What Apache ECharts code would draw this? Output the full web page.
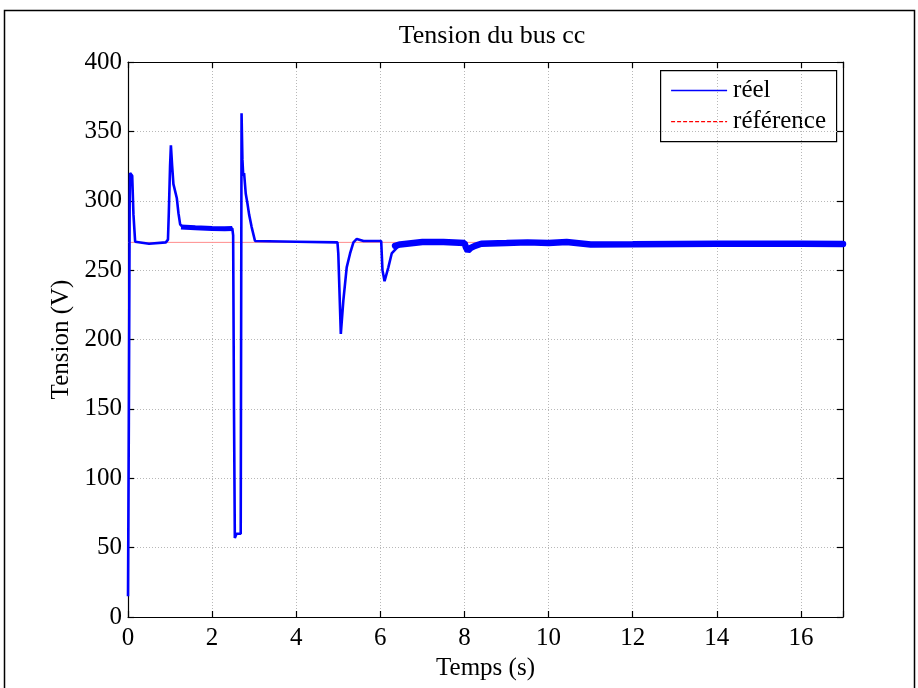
<!DOCTYPE html>
<html>
<head>
<meta charset="utf-8">
<script src="https://cdn.jsdelivr.net/npm/echarts@6/dist/echarts.min.js"></script>
<style>html,body{margin:0;padding:0;background:#fff}#c{width:918px;height:688px}</style>
</head>
<body>
<div id="c"></div>
<script>
// Data (time in s, voltage in V)
const title = 'Tension du bus cc';
const xName = 'Temps (s)';
const yName = 'Tension (V)';
const seriesNames = ['réel', 'référence'];

// main measured voltage path
const reelT = [0, 0.02, 0.04, 0.05, 0.10, 0.13, 0.17, 0.5, 0.9, 0.95, 0.97, 1.0, 1.02, 1.05, 1.08, 1.16, 1.2, 1.24, 1.3, 2.0, 2.48, 2.5, 2.52, 2.54, 2.58, 2.68, 2.7, 2.72, 2.74, 2.76, 2.8, 2.84, 2.88, 2.94, 3.02, 4.0, 4.98, 5.0, 5.06, 5.12, 5.2, 5.28, 5.36, 5.44, 5.6, 6.02, 6.05, 6.1, 6.19, 6.27, 6.47, 7.0, 7.5, 8.0, 8.04, 8.08, 8.15, 8.25, 8.4, 9.0, 9.5, 10.0, 10.43, 11.0, 12.0, 13.0, 14.0, 15.0, 16.0, 17.0];
const reelV = [15, 140, 300, 320, 318, 290, 270.5, 269, 270, 272, 291, 325, 340, 325, 312, 302, 291, 283, 281, 280, 280, 275, 150, 57, 60, 60, 363, 330, 318, 320, 305, 298, 290, 281, 271, 270.5, 270, 262, 204, 228, 252, 262, 270, 272.5, 271, 271, 250, 242, 252, 262, 268.5, 270.5, 270.5, 269.5, 266, 264, 266, 267.5, 269, 269.5, 270, 269.5, 270.5, 268.5, 268.5, 269, 269, 269, 269, 268.8];

// noisy parts (thick band) of the measured voltage
const plateauT = [1.26, 1.6, 2.0, 2.3, 2.48];
const plateauV = [281, 280.5, 280, 279.8, 280];
const steadyT = [6.35, 6.47, 7.0, 7.5, 8.0, 8.04, 8.08, 8.15, 8.25, 8.4, 9.0, 9.5, 10.0, 10.43, 11.0, 12.0, 13.0, 14.0, 15.0, 16.0, 17.0];
const steadyV = [267.5, 268.5, 270.2, 270.2, 269.5, 266, 264, 266, 267.5, 269, 269.5, 270, 269.5, 270.3, 268.5, 268.6, 268.9, 269, 269, 269, 268.8];

// reference voltage
const refT = [0, 17];
const refV = [270, 270];

const xTicks = [0, 2, 4, 6, 8, 10, 12, 14, 16];
const yTicks = [0, 50, 100, 150, 200, 250, 300, 350, 400];

const zip = (a, b) => a.map((t, i) => [t, b[i]]);
const FONT = 'Liberation Serif';
const BLUE = '#0000ff';
const FS = 25;

const chart = echarts.init(document.getElementById('c'), null, {renderer: 'canvas'});
const baseX = {
  type: 'value', min: 0, max: 17, interval: 2,
  axisLine: {show: true, onZero: false, lineStyle: {color: '#000', width: 1.2}},
  axisTick: {show: true, inside: true, length: 6, lineStyle: {color: '#000', width: 1.2}},
};
const baseY = {
  type: 'value', min: 0, max: 400, interval: 50,
  axisLine: {show: true, onZero: false, lineStyle: {color: '#000', width: 1.2}},
  axisTick: {show: true, inside: true, length: 6, lineStyle: {color: '#000', width: 1.2}},
};
chart.setOption({
  animation: false,
  backgroundColor: '#fff',
  title: {
    text: title, left: 487, top: 18, textAlign: 'center',
    textStyle: {fontFamily: FONT, fontSize: 26, fontWeight: 'normal', color: '#000'}
  },
  grid: {left: 128, top: 62, right: 75, bottom: 71, containLabel: false},
  xAxis: [
    Object.assign({}, baseX, {
      position: 'bottom',
      name: xName, nameLocation: 'middle', nameGap: 33,
      nameTextStyle: {fontFamily: FONT, fontSize: FS, color: '#000'},
      axisLabel: {show: true, margin: 9, fontFamily: FONT, fontSize: FS, color: '#000',
        formatter: v => (xTicks.indexOf(v) >= 0 ? String(v) : '')},
      splitLine: {show: true, lineStyle: {color: '#b8b8b8', type: [1, 2], width: 1}}
    }),
    Object.assign({}, baseX, {
      position: 'top', axisLabel: {show: false}, splitLine: {show: false}
    })
  ],
  yAxis: [
    Object.assign({}, baseY, {
      position: 'left',
      name: yName, nameLocation: 'middle', nameGap: 51,
      nameTextStyle: {fontFamily: FONT, fontSize: FS, color: '#000'},
      axisLabel: {show: true, margin: 6, fontFamily: FONT, fontSize: FS, color: '#000',
        formatter: v => (yTicks.indexOf(v) >= 0 ? String(v) : '')},
      splitLine: {show: true, lineStyle: {color: '#b8b8b8', type: [1, 2], width: 1}}
    }),
    Object.assign({}, baseY, {
      position: 'right', axisLabel: {show: false}, splitLine: {show: false}
    })
  ],
  graphic: [
    {
      type: 'rect', shape: {x: 4.5, y: 10.5, width: 910, height: 700},
      style: {fill: null, stroke: '#000', lineWidth: 1.5}, silent: true, z: 100
    },
    {
      type: 'group', left: 660, top: 70, z: 50, children: [
        {type: 'rect', shape: {x: 0.5, y: 0.5, width: 176, height: 71},
         style: {fill: '#fff', stroke: '#000', lineWidth: 1.2}},
        {type: 'line', shape: {x1: 11, y1: 20.5, x2: 67, y2: 20.5},
         style: {stroke: BLUE, lineWidth: 1.5}},
        {type: 'text', x: 73, y: 20, style: {text: seriesNames[0], fontFamily: FONT, fontSize: FS,
         fill: '#000', textVerticalAlign: 'middle', verticalAlign: 'middle'}},
        {type: 'line', shape: {x1: 11, y1: 51.5, x2: 67, y2: 51.5},
         style: {stroke: '#ff0000', lineWidth: 1.3, lineDash: [4, 2]}},
        {type: 'text', x: 73, y: 51, style: {text: seriesNames[1], fontFamily: FONT, fontSize: FS,
         fill: '#000', textVerticalAlign: 'middle', verticalAlign: 'middle'}}
      ]
    }
  ],
  series: [
    {
      name: seriesNames[1], type: 'line', data: zip(refT, refV), symbol: 'none',
      lineStyle: {color: '#ff8c8c', width: 1}, z: 1
    },
    {
      name: seriesNames[0], type: 'line', data: zip(reelT, reelV), symbol: 'none',
      lineStyle: {color: BLUE, width: 2.6}, z: 2
    },
    {
      name: 'plateau', type: 'line', data: zip(plateauT, plateauV), symbol: 'none',
      lineStyle: {color: BLUE, width: 5}, z: 2, silent: true
    },
    {
      name: 'steady', type: 'line', data: zip(steadyT, steadyV), symbol: 'none',
      lineStyle: {color: BLUE, width: 6.5, cap: 'round'}, z: 2, silent: true
    }
  ]
});
</script>
</body>
</html>
